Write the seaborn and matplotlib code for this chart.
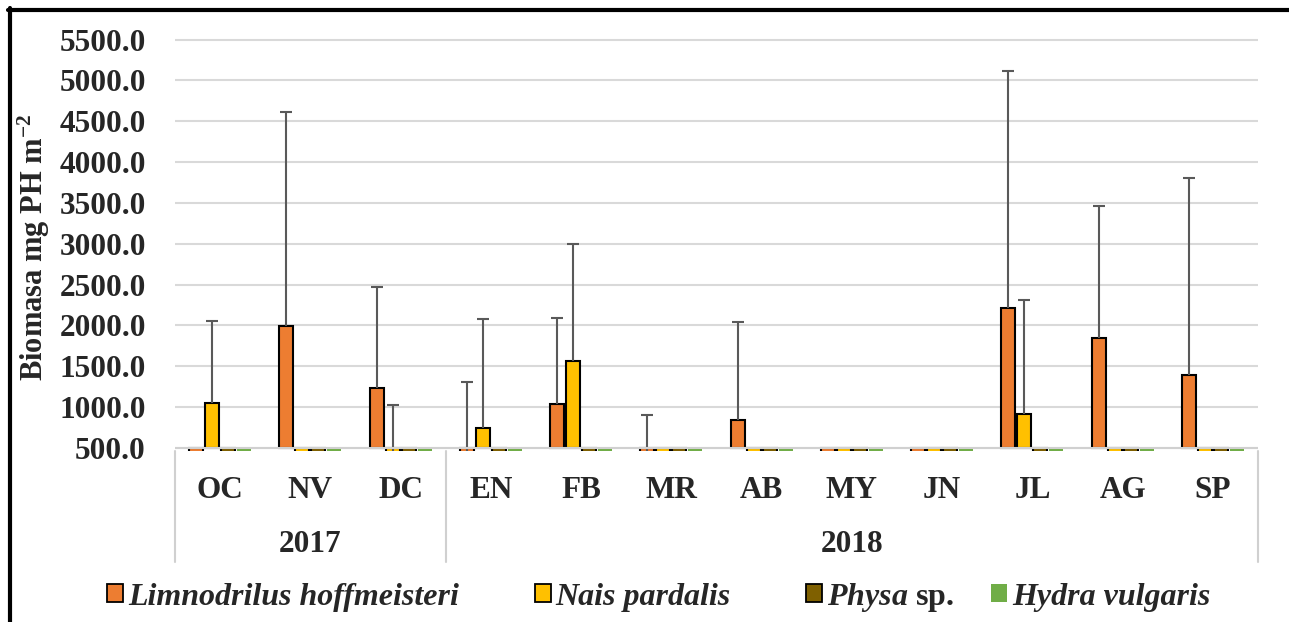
import pandas as pd
import matplotlib
matplotlib.use("Agg")
import matplotlib.pyplot as plt
import matplotlib.transforms as mtransforms
from matplotlib.lines import Line2D
from matplotlib.patches import Patch
import seaborn as sns

# ---- data -------------------------------------------------------------
months = ["OC", "NV", "DC", "EN", "FB", "MR", "AB", "MY", "JN", "JL", "AG", "SP"]
years = ["2017", "2018"]
months_per_year = [3, 9]
species = ["Limnodrilus hoffmeisteri", "Nais pardalis", "Physa sp.", "Hydra vulgaris"]

# mean biomass (mg PH m-2) and upper error per month
limno = [0, 1990, 1230, 200, 1040, 150, 840, 0, 0, 2220, 1850, 1390]
limno_err = [0, 2620, 1240, 1110, 1050, 760, 1200, 0, 0, 2890, 1610, 2410]
nais = [1050, 0, 150, 750, 1560, 0, 0, 0, 0, 920, 0, 0]
nais_err = [1000, 0, 880, 1330, 1440, 0, 0, 0, 0, 1390, 0, 0]
physa = [0, 0, 0, 0, 0, 0, 0, 0, 0, 0, 0, 0]
physa_err = [0, 0, 0, 0, 0, 0, 0, 0, 0, 0, 0, 0]
hydra = [0, 0, 0, 0, 0, 0, 0, 0, 0, 0, 0, 0]
hydra_err = [0, 0, 0, 0, 0, 0, 0, 0, 0, 0, 0, 0]

y_ticks = [500, 1000, 1500, 2000, 2500, 3000, 3500, 4000, 4500, 5000, 5500]
baseline = 500  # value where the category axis crosses

colors = ["#ED7D31", "#FFC000", "#7F6000", "#70AD47"]
series = [limno, nais, physa, hydra]
errors = [limno_err, nais_err, physa_err, hydra_err]

rows = []
for sp, vals in zip(species, series):
    for m, v in zip(months, vals):
        rows.append({"month": m, "species": sp, "value": v,
                     "height": v - baseline})
df = pd.DataFrame(rows)

# ---- style ------------------------------------------------------------
sns.set_style("white")
plt.rcParams["font.family"] = ["Liberation Serif", "DejaVu Serif"]
plt.rcParams["font.weight"] = "bold"
plt.rcParams["mathtext.fontset"] = "custom"
plt.rcParams["mathtext.rm"] = "Liberation Serif:bold"
plt.rcParams["mathtext.bf"] = "Liberation Serif:bold"
plt.rcParams["mathtext.it"] = "Liberation Serif:italic:bold"

W, H = 1289, 622
fig = plt.figure(figsize=(W / 100, H / 100), dpi=100)
ax_left, ax_right = 175, 1258
ax_top, ax_bottom = 34.6, 450.9
ax = fig.add_axes([ax_left / W, 1 - ax_bottom / H,
                   (ax_right - ax_left) / W, (ax_bottom - ax_top) / H])

# bars grow from the axis crossing value, so low values sink below it
sns.barplot(data=df, x="month", y="height", hue="species",
            order=months, hue_order=species, palette=colors,
            saturation=1, width=0.71, gap=0.12, errorbar=None,
            legend=False, edgecolor="black", linewidth=1.5,
            bottom=baseline, zorder=3, ax=ax)
for bar in ax.containers[3]:
    bar.set_edgecolor("none")

ax.set_ylim(465, 5560)
ax.set_xlim(-0.5, len(months) - 0.5)

# upper error bars
cap = 0.066
for cont, vals, errs in zip(ax.containers, series, errors):
    for bar, v, e in zip(cont, vals, errs):
        if e <= 0:
            continue
        xc = bar.get_x() + bar.get_width() / 2
        ax.vlines(xc, v, v + e, colors="#595959", linewidth=1.5, zorder=4)
        ax.hlines(v + e, xc - cap, xc + cap, colors="#595959",
                  linewidth=1.5, zorder=4)

# grid and category axis line
ax.set_yticks(y_ticks)
ax.set_yticklabels([f"{t:.1f}" for t in y_ticks], fontsize=22.5,
                   fontweight="bold")
ax.yaxis.grid(True, color="#d9d9d9", linewidth=1.5)
ax.xaxis.grid(False)
ax.set_axisbelow(True)
ax.axhline(baseline, color="#d0d0d0", linewidth=1.5, zorder=5)
for s in ax.spines.values():
    s.set_visible(False)
ax.tick_params(axis="y", length=0, pad=21)
ax.tick_params(axis="x", length=0, pad=18)
ax.set_xticks(range(len(months)))
ax.set_xticklabels(months, fontsize=22.5, fontweight="bold")

ax.set_xlabel("")
ax.set_ylabel(r"Biomasa mg PH m$^{\rm{-2}}$", fontsize=22,
              fontweight="bold")
ax.yaxis.set_label_coords((52 - ax_left) / (ax_right - ax_left),
                          (ax_bottom - 247) / (ax_bottom - ax_top))

# year grouping below the month labels
trans = mtransforms.blended_transform_factory(ax.transData, ax.transAxes)
sep_y = (ax_bottom - 562) / (ax_bottom - ax_top)
year_y = (ax_bottom - 545) / (ax_bottom - ax_top)
start = 0
edges = [-0.5]
for yr, n in zip(years, months_per_year):
    ax.text(start + (n - 1) / 2, year_y, yr, transform=trans,
            ha="center", va="center", fontsize=22.5, fontweight="bold")
    start += n
    edges.append(start - 0.5)
for xe in edges:
    ax.plot([xe, xe], [0, sep_y], transform=trans, color="#d0d0d0",
            linewidth=1.5, clip_on=False)

# legend entries
leg_x = [107, 535, 806, 991]
leg_labels = [r"Limnodrilus hoffmeisteri", r"Nais pardalis",
              r"$\it{Physa}$ sp.", r"Hydra vulgaris"]
leg_styles = ["italic", "italic", "normal", "italic"]
for i, (x0, lab, st) in enumerate(zip(leg_x, leg_labels, leg_styles)):
    ec = "black" if i < 3 else "none"
    h = Patch(facecolor=colors[i], edgecolor=ec, linewidth=1.3)
    fig.legend([h], [lab], loc="center left",
               bbox_to_anchor=(x0 / W, 1 - 597 / H),
               frameon=False, borderpad=0, borderaxespad=0,
               handlelength=0.5, handleheight=0.5, handletextpad=0.15,
               prop={"family": "Liberation Serif", "weight": "bold",
                     "style": st, "size": 23})

# outer frame (top and left edges)
fig.add_artist(Line2D([8 / W, 1], [1 - 9.5 / H, 1 - 9.5 / H],
                      transform=fig.transFigure, color="black", linewidth=3))
fig.add_artist(Line2D([9.5 / W, 9.5 / W], [0, 1 - 8 / H],
                      transform=fig.transFigure, color="black", linewidth=3))

fig.savefig("out.png", dpi=100)
